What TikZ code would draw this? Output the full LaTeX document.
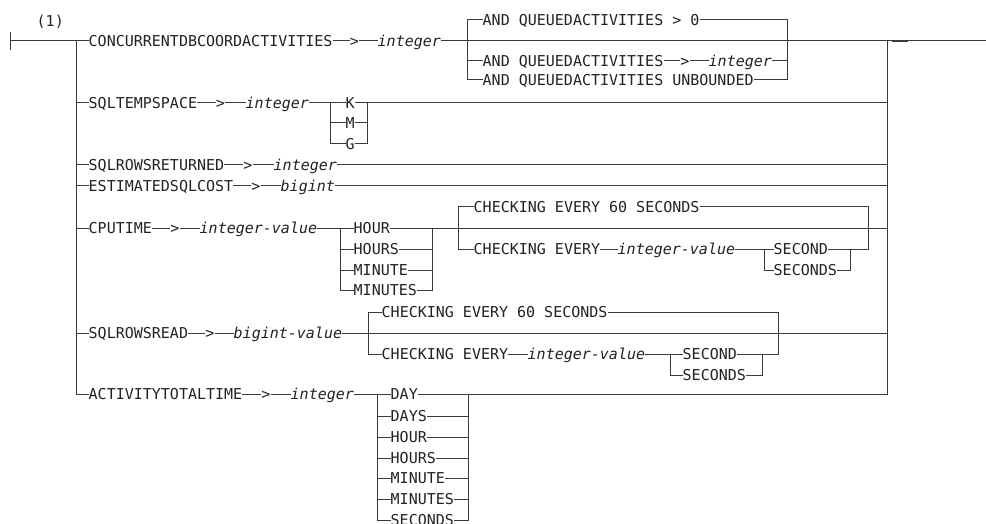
\documentclass[tikz,border=0pt]{standalone}
\usepackage{fontspec}
\newfontfamily\rrfont{DejaVu Sans Mono}
\definecolor{linec}{HTML}{3A3A3A}
\definecolor{textc}{HTML}{222222}
\tikzset{
  rail/.style={line width=1pt, draw=linec, line cap=rect},
  kw/.style={anchor=west, inner xsep=0.5pt, inner ysep=0pt, text height=10.9pt, text depth=0pt,
    font=\rrfont\fontsize{15}{18}\selectfont, text=textc},
  var/.style={kw, font=\rrfont\fontsize{15}{18}\selectfont\itshape},
  gt/.style={kw, anchor=center}
}
\begin{document}
\begin{tikzpicture}[x=1pt,y=-1pt]
\useasboundingbox (0,0) rectangle (986,524);
% start and trunk
\coordinate (stt) at (10,33); \coordinate (stb) at (10,50); \coordinate (st) at (10,41);
\coordinate (L1) at (76,41); \coordinate (L7) at (76,394);
\coordinate (R1) at (887,41); \coordinate (R7) at (887,394);
\coordinate (E) at (986,41);
\coordinate (m1) at (892,41); \coordinate (m2) at (908,41);
\node[kw] (note) at (36,21) {(1)};
% ---------- row 1
\node[kw] (c1) at (88,41) {CONCURRENTDBCOORDACTIVITIES};
\node[gt] (g1) at (354.5,41) {>};
\node[var] (i1) at (377,41) {integer};
\coordinate (b1t) at (467,20); \coordinate (b1m) at (467,61); \coordinate (b1b) at (467,80);
\node[kw] (q1) at (482,20) {AND QUEUEDACTIVITIES > 0};
\node[kw] (q2) at (482,61) {AND QUEUEDACTIVITIES};
\node[gt] (g1b) at (685,61) {>};
\node[var] (i1b) at (708,61) {integer};
\node[kw] (q3) at (482,80) {AND QUEUEDACTIVITIES UNBOUNDED};
\coordinate (r1t) at (787,20); \coordinate (r1m) at (787,61); \coordinate (r1b) at (787,80);
% ---------- row 2
\coordinate (L2) at (76,103); \coordinate (R2) at (887,103);
\node[kw] (s2) at (88,103) {SQLTEMPSPACE};
\node[gt] (g2) at (220.5,103) {>};
\node[var] (i2) at (245,103) {integer};
\coordinate (k1) at (330,103); \coordinate (k2) at (330,123); \coordinate (k3) at (330,144);
\node[kw] (kK) at (345,103) {K};
\node[kw] (kM) at (345,123) {M};
\node[kw] (kG) at (345,144) {G};
\coordinate (kr1) at (367,103); \coordinate (kr2) at (367,123); \coordinate (kr3) at (367,144);
% ---------- row 3
\coordinate (L3) at (76,165); \coordinate (R3) at (887,165);
\node[kw] (s3) at (88,165) {SQLROWSRETURNED};
\node[gt] (g3) at (248,165) {>};
\node[var] (i3) at (273,165) {integer};
% ---------- row 4
\coordinate (L4) at (76,186); \coordinate (R4) at (887,186);
\node[kw] (s4) at (88,186) {ESTIMATEDSQLCOST};
\node[gt] (g4) at (256,186) {>};
\node[var] (i4) at (280,186) {bigint};
% ---------- row 5
\coordinate (L5) at (76,228); \coordinate (R5) at (887,228);
\node[kw] (s5) at (88,228) {CPUTIME};
\node[gt] (g5) at (175,228) {>};
\node[var] (i5) at (199,228) {integer-value};
\coordinate (h1) at (340,228); \coordinate (h2) at (340,249); \coordinate (h3) at (340,270); \coordinate (h4) at (340,290);
\node[kw] (hA) at (353,228) {HOUR};
\node[kw] (hB) at (353,249) {HOURS};
\node[kw] (hC) at (353,270) {MINUTE};
\node[kw] (hD) at (353,290) {MINUTES};
\coordinate (hr1) at (432,228); \coordinate (hr2) at (432,249); \coordinate (hr3) at (432,270); \coordinate (hr4) at (432,290);
\coordinate (c5t) at (458,207); \coordinate (c5m) at (458,228); \coordinate (c5b) at (458,249);
\node[kw] (ck1) at (473,207) {CHECKING EVERY 60 SECONDS};
\node[kw] (ck2) at (473,249) {CHECKING EVERY};
\node[var] (iv5) at (617,249) {integer-value};
\coordinate (e1) at (764,249); \coordinate (e2) at (764,270);
\node[kw] (sa1) at (773,249) {SECOND};
\node[kw] (sb1) at (773,270) {SECONDS};
\coordinate (er1) at (850,249); \coordinate (er2) at (850,270);
\coordinate (c5rt) at (868,207); \coordinate (c5rb) at (868,249);
% ---------- row 6
\coordinate (L6) at (76,333); \coordinate (R6) at (887,333);
\node[kw] (s6) at (88,333) {SQLROWSREAD};
\node[gt] (g6) at (210,333) {>};
\node[var] (i6) at (233,333) {bigint-value};
\coordinate (c6t) at (368,312); \coordinate (c6m) at (368,333); \coordinate (c6b) at (368,354);
\node[kw] (ck3) at (381,312) {CHECKING EVERY 60 SECONDS};
\node[kw] (ck4) at (381,354) {CHECKING EVERY};
\node[var] (iv6) at (527,354) {integer-value};
\coordinate (f1) at (670,354); \coordinate (f2) at (670,375);
\node[kw] (sa2) at (682,354) {SECOND};
\node[kw] (sb2) at (682,375) {SECONDS};
\coordinate (fr1) at (762,354); \coordinate (fr2) at (762,375);
\coordinate (c6rt) at (778,312); \coordinate (c6rb) at (778,354);
% ---------- row 7
\node[kw] (s7) at (88,394) {ACTIVITYTOTALTIME};
\node[gt] (g7) at (266,394) {>};
\node[var] (i7) at (290,394) {integer};
\coordinate (d1) at (377,394); \coordinate (d2) at (377,416); \coordinate (d3) at (377,437);
\coordinate (d4) at (377,458); \coordinate (d5) at (377,478); \coordinate (d6) at (377,499); \coordinate (d7) at (377,520);
\node[kw] (dA) at (390,394) {DAY};
\node[kw] (dB) at (390,416) {DAYS};
\node[kw] (dC) at (390,437) {HOUR};
\node[kw] (dD) at (390,458) {HOURS};
\node[kw] (dE) at (390,478) {MINUTE};
\node[kw] (dF) at (390,499) {MINUTES};
\node[kw] (dG) at (390,520) {SECONDS};
\coordinate (dr1) at (468,394); \coordinate (dr2) at (468,416); \coordinate (dr3) at (468,437);
\coordinate (dr4) at (468,458); \coordinate (dr5) at (468,478); \coordinate (dr6) at (468,499); \coordinate (dr7) at (468,520);

% ================= connectors
\draw[rail] (stt) -- (stb);
\draw[rail] (st) -- (c1.west);
\draw[rail] (L1) -- (L7) -- (s7.west);
\draw[rail] (R1) -- (R7);
\draw[line width=1.4pt, draw=linec] (m1) -- (m2);
% row 1
\draw[rail] (c1.east) -- (g1.west);
\draw[rail] (g1.east) -- (i1.west);
\draw[rail] (i1.east) -- (E);
\draw[rail] (b1t) -- (b1b);
\draw[rail] (b1t) -- (q1.west);
\draw[rail] (b1m) -- (q2.west);
\draw[rail] (b1b) -- (q3.west);
\draw[rail] (q1.east) -- (r1t);
\draw[rail] (q2.east) -- (g1b.west);
\draw[rail] (g1b.east) -- (i1b.west);
\draw[rail] (i1b.east) -- (r1m);
\draw[rail] (q3.east) -- (r1b);
\draw[rail] (r1t) -- (r1b);
% row 2
\draw[rail] (L2) -- (s2.west);
\draw[rail] (s2.east) -- (g2.west);
\draw[rail] (g2.east) -- (i2.west);
\draw[rail] (i2.east) -- (k1);
\draw[rail] (k1) -- (k3);
\draw[rail] (k1) -- (kK.west); \draw[rail] (k2) -- (kM.west); \draw[rail] (k3) -- (kG.west);
\draw[rail] (kK.east) -- (kr1); \draw[rail] (kM.east) -- (kr2); \draw[rail] (kG.east) -- (kr3);
\draw[rail] (kr1) -- (kr3);
\draw[rail] (kr1) -- (R2);
% row 3
\draw[rail] (L3) -- (s3.west);
\draw[rail] (s3.east) -- (g3.west);
\draw[rail] (g3.east) -- (i3.west);
\draw[rail] (i3.east) -- (R3);
% row 4
\draw[rail] (L4) -- (s4.west);
\draw[rail] (s4.east) -- (g4.west);
\draw[rail] (g4.east) -- (i4.west);
\draw[rail] (i4.east) -- (R4);
% row 5
\draw[rail] (L5) -- (s5.west);
\draw[rail] (s5.east) -- (g5.west);
\draw[rail] (g5.east) -- (i5.west);
\draw[rail] (i5.east) -- (h1);
\draw[rail] (h1) -- (h4);
\draw[rail] (h1) -- (hA.west); \draw[rail] (h2) -- (hB.west); \draw[rail] (h3) -- (hC.west); \draw[rail] (h4) -- (hD.west);
\draw[rail] (hA.east) -- (hr1); \draw[rail] (hB.east) -- (hr2); \draw[rail] (hC.east) -- (hr3); \draw[rail] (hD.east) -- (hr4);
\draw[rail] (hr1) -- (hr4);
\draw[rail] (hr1) -- (R5);
\draw[rail] (c5t) -- (c5b);
\draw[rail] (c5t) -- (ck1.west);
\draw[rail] (c5b) -- (ck2.west);
\draw[rail] (ck1.east) -- (c5rt);
\draw[rail] (ck2.east) -- (iv5.west);
\draw[rail] (iv5.east) -- (e1);
\draw[rail] (e1) -- (e2);
\draw[rail] (e1) -- (sa1.west); \draw[rail] (e2) -- (sb1.west);
\draw[rail] (sa1.east) -- (er1); \draw[rail] (sb1.east) -- (er2);
\draw[rail] (er1) -- (er2);
\draw[rail] (er1) -- (c5rb);
\draw[rail] (c5rt) -- (c5rb);
% row 6
\draw[rail] (L6) -- (s6.west);
\draw[rail] (s6.east) -- (g6.west);
\draw[rail] (g6.east) -- (i6.west);
\draw[rail] (i6.east) -- (R6);
\draw[rail] (c6t) -- (c6b);
\draw[rail] (c6t) -- (ck3.west);
\draw[rail] (c6b) -- (ck4.west);
\draw[rail] (ck3.east) -- (c6rt);
\draw[rail] (ck4.east) -- (iv6.west);
\draw[rail] (iv6.east) -- (f1);
\draw[rail] (f1) -- (f2);
\draw[rail] (f1) -- (sa2.west); \draw[rail] (f2) -- (sb2.west);
\draw[rail] (sa2.east) -- (fr1); \draw[rail] (sb2.east) -- (fr2);
\draw[rail] (fr1) -- (fr2);
\draw[rail] (fr1) -- (c6rb);
\draw[rail] (c6rt) -- (c6rb);
% row 7
\draw[rail] (s7.east) -- (g7.west);
\draw[rail] (g7.east) -- (i7.west);
\draw[rail] (i7.east) -- (d1);
\draw[rail] (d1) -- (d7);
\draw[rail] (d1) -- (dA.west); \draw[rail] (d2) -- (dB.west); \draw[rail] (d3) -- (dC.west);
\draw[rail] (d4) -- (dD.west); \draw[rail] (d5) -- (dE.west); \draw[rail] (d6) -- (dF.west); \draw[rail] (d7) -- (dG.west);
\draw[rail] (dA.east) -- (dr1); \draw[rail] (dB.east) -- (dr2); \draw[rail] (dC.east) -- (dr3);
\draw[rail] (dD.east) -- (dr4); \draw[rail] (dE.east) -- (dr5); \draw[rail] (dF.east) -- (dr6); \draw[rail] (dG.east) -- (dr7);
\draw[rail] (dr1) -- (dr7);
\draw[rail] (dr1) -- (R7);
\end{tikzpicture}
\end{document}
